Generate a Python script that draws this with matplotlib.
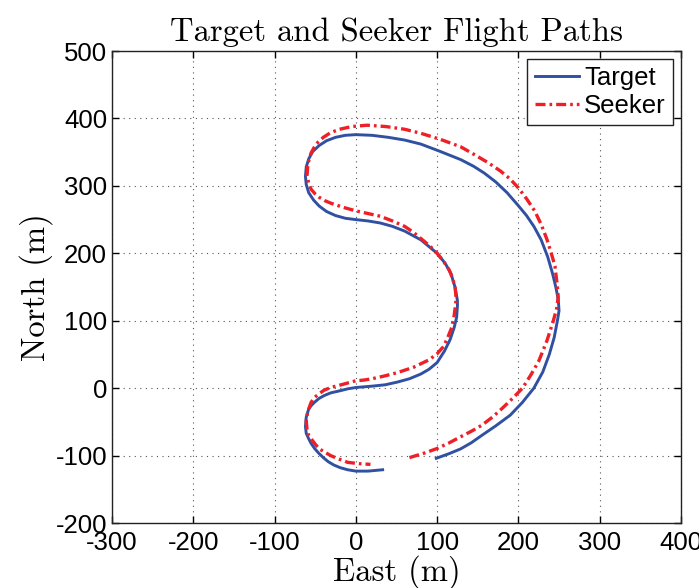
import numpy as np
import matplotlib.pyplot as plt

plt.rcParams["font.family"] = ["Liberation Sans", "DejaVu Sans"]
plt.rcParams["axes.unicode_minus"] = False

# Target track (East, North) in metres
target_east = [99, 115, 129, 142, 155, 172, 190, 205, 219, 230, 238, 244, 248, 250,
               249, 246, 242, 236, 228, 219, 210, 199, 186, 172, 158, 145, 129, 104,
               80, 60, 40, 20, 0, -13, -25, -36, -45, -53, -58, -61, -62, -61, -58,
               -52, -45, -36, -25, -13, 0, 15, 30, 45, 60, 80, 100, 110, 117, 122,
               125, 125, 124, 121, 116, 109, 100, 90, 80, 66, 51, 36, 20, 0, -10,
               -20, -31, -39, -45, -51, -55, -58, -61, -62, -61, -58, -55, -51, -46,
               -40, -34, -27, -19, -10, 0, 15, 33]
target_north = [-104, -97, -90, -81, -70, -56, -40, -21, 0, 24, 50, 75, 100, 115,
                132, 150, 170, 195, 220, 240, 256, 272, 290, 306, 319, 329, 339, 351,
                362, 368, 372, 375, 376, 375, 372, 367, 360, 351, 340, 328, 314, 302,
                290, 279, 270, 262, 256, 252, 250, 248, 245, 240, 233, 220, 200, 185,
                170, 150, 130, 122, 105, 90, 72, 55, 38, 28, 21, 14, 9, 5, 3, 1, -1,
                -4, -7, -11, -15, -21, -26, -31, -43, -57, -67, -75, -82, -89, -96,
                -103, -109, -114, -118, -121, -123, -123, -121]

# Seeker track (East, North) in metres
seeker_east = [66, 85, 101, 115, 129, 142, 155, 168, 180, 193, 205, 215, 225, 235,
               243, 247, 249, 248, 245, 240, 235, 228, 220, 210, 200, 190, 178, 162,
               145, 129, 104, 80, 60, 37, 14, -5, -20, -31, -40, -49, -55, -59, -60,
               -58, -55, -50, -45, -38, -30, -15, 0, 15, 30, 45, 60, 71, 80, 91, 100,
               108, 115, 119, 122, 123, 123, 121, 118, 113, 108, 100, 90, 71, 51, 35,
               20, 10, 0, -15, -31, -39, -45, -51, -55, -59, -61, -60, -58, -55, -50,
               -45, -38, -31, -21, -10, 4, 18]
seeker_north = [-103, -96, -89, -81, -72, -64, -55, -43, -30, -15, 0, 19, 40, 70,
                100, 118, 135, 150, 181, 202, 221, 243, 263, 281, 297, 310, 322, 335,
                347, 358, 369, 378, 384, 388, 390, 388, 384, 379, 372, 362, 349, 333,
                315, 304, 295, 288, 283, 278, 274, 268, 263, 259, 255, 248, 240, 231,
                222, 211, 200, 188, 175, 163, 150, 139, 127, 108, 90, 75, 62, 51, 42,
                31, 23, 18, 14, 12, 11, 6, 1, -3, -8, -14, -21, -34, -48, -62, -70,
                -75, -83, -90, -95, -100, -105, -110, -112, -113]

fig = plt.figure(figsize=(6.99, 5.88), dpi=100)
ax = fig.add_axes([0.1602, 0.1105, 0.8140, 0.8027])

ax.plot(target_east, target_north, color="#3050a2", lw=2.1, label="Target")
ax.plot(seeker_east, seeker_north, color="#ee1f26", lw=2.4, label="Seeker",
        linestyle=(0, (3, 1.2, 0.8, 1.2)))

ax.set_xlim(-300, 400)
ax.set_ylim(-200, 500)
ax.set_xticks(np.arange(-300, 401, 100))
ax.set_yticks(np.arange(-200, 501, 100))
ax.tick_params(direction="in", top=True, right=True, labelsize=18.5, length=5,
               width=1, pad=3.5)
ax.tick_params(axis="x", pad=6)
ax.grid(True, linestyle=(0, (1, 4)), color="#555555", linewidth=0.8)
for sp in ax.spines.values():
    sp.set_linewidth(1.0)
    sp.set_color("#222222")

ax.set_title("Target and Seeker Flight Paths", fontfamily="cmr10", fontsize=23.5,
             pad=7)
ax.set_xlabel("East (m)", fontfamily="cmr10", fontsize=23.5, labelpad=0)
ax.set_ylabel("North (m)", fontfamily="cmr10", fontsize=23.5, labelpad=2)

leg = ax.legend(loc="upper right", fontsize=18.5, fancybox=False, framealpha=1,
                edgecolor="#222222", handlelength=1.7, handletextpad=0.2,
                borderpad=0.3, labelspacing=0.12, borderaxespad=0.3)
leg.get_frame().set_linewidth(1.0)

fig.savefig("out.png", dpi=100)
